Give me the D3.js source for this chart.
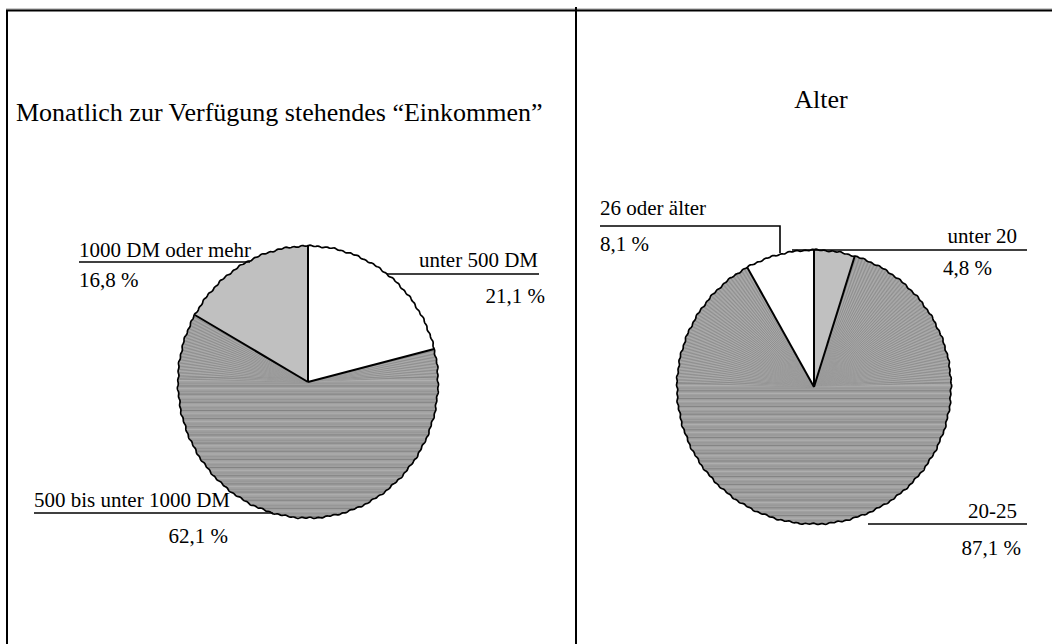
<!DOCTYPE html>
<html lang="de">
<head>
  <meta charset="utf-8">
  <title>Einkommen und Alter</title>
  <script src="https://cdn.jsdelivr.net/npm/d3@7"></script>
  <style>
    body {
      margin: 0;
      background: #fff;
    }

    svg text {
      font-family: "Liberation Serif", "Times New Roman", serif;
      fill: #000;
    }
  </style>
</head>

<body>
  <svg id="chart" width="1052" height="644"></svg>

  <script>
    //
    // Data
    //

    var incomeLabels = ['unter 500 DM', '500 bis unter 1000 DM', '1000 DM oder mehr']
    var incomeValues = [21.1, 62.1, 16.8]
    var incomeFills = ['white', 'hatch', '#c0c0c0']

    var ageLabels = ['unter 20', '20-25', '26 oder älter']
    var ageValues = [4.8, 87.1, 8.1]
    var ageFills = ['#c0c0c0', 'hatch', 'white']

    // where each label sits (name, percent, leader line points)
    var incomeLayout = [
      { name: [538, 267, 'end'], pct: [545, 303, 'end'], line: [[387, 274], [539, 274]] },
      { name: [34, 507, 'start'], pct: [228, 543, 'end'], line: [[34, 513], [273, 513]] },
      { name: [79, 257, 'start'], pct: [79, 287, 'start'], line: [[79, 262], [250, 262]] }
    ]
    var ageLayout = [
      { name: [1017, 243, 'end'], pct: [943, 275, 'start'], line: [[792, 250], [1027, 250]] },
      { name: [1017, 518, 'end'], pct: [1021, 555, 'end'], line: [[868, 524], [1027, 524]] },
      { name: [600, 215, 'start'], pct: [600, 251, 'start'], line: [[600, 226], [780, 226], [780, 253]] }
    ]

    var svg = d3.select('#chart')
    var fmt = d3.format('.1f')

    function pct(v) {
      return fmt(v).replace('.', ',') + ' %'
    }

    //
    // Frame
    //

    var frame = svg.append('g')
      .attr('fill', 'none')
      .attr('stroke', '#000')
      .attr('stroke-width', 2)
    frame.append('line').attr('x1', 6).attr('x2', 1052).attr('y1', 9).attr('y2', 9)
      .attr('stroke', '#999').attr('stroke-width', 1)
    frame.append('line').attr('x1', 6).attr('x2', 1052).attr('y1', 10.5).attr('y2', 10.5)
    frame.append('line').attr('x1', 7).attr('x2', 7).attr('y1', 10).attr('y2', 644)
    frame.append('line').attr('x1', 576).attr('x2', 576).attr('y1', 7).attr('y2', 644)

    //
    // Titles
    //

    svg.append('text')
      .attr('x', 16).attr('y', 121)
      .attr('font-size', 26)
      .text('Monatlich zur Verfügung stehendes \u201cEinkommen\u201d')

    svg.append('text')
      .attr('x', 821).attr('y', 108)
      .attr('font-size', 26)
      .attr('text-anchor', 'middle')
      .text('Alter')

    //
    // Pies
    //

    function drawPie(id, labels, values, fills, layout, cx, cy, r, ky) {
      var pie = d3.pie().sort(null).value(function(d) { return d })
      var arcs = pie(values)
      var arc = d3.arc().innerRadius(0).outerRadius(r)

      var g = svg.append('g')
        .attr('transform', 'translate(' + cx + ',' + cy + ') scale(1,' + ky + ')')

      arcs.forEach(function(a, i) {
        if (fills[i] !== 'hatch') {
          g.append('path').attr('d', arc(a)).attr('fill', fills[i])
          return
        }
        // grey slice with the scanned line texture
        var clipId = id + '-clip' + i
        g.append('clipPath').attr('id', clipId)
          .append('path').attr('d', arc(a))
        var tex = g.append('g').attr('clip-path', 'url(#' + clipId + ')')
        tex.append('path').attr('d', arc(a)).attr('fill', '#a0a0a0')

        var rows = d3.range(-4, r + 2, 2.6)
        tex.selectAll('line.h').data(rows).join('line')
          .attr('class', 'h')
          .attr('x1', -r).attr('x2', r)
          .attr('y1', function(d) { return d }).attr('y2', function(d) { return d })
          .attr('stroke', function(d, j) { return j % 3 === 0 ? '#828282' : (j % 3 === 1 ? '#b0b0b0' : '#959595') })
          .attr('stroke-width', 1)
          .attr('vector-effect', 'non-scaling-stroke')

        var rays = d3.range(a.startAngle, a.endAngle, 0.012).filter(function(t) {
          return Math.cos(t) > 0.02
        })
        tex.selectAll('line.r').data(rays).join('line')
          .attr('class', 'r')
          .attr('x1', 0).attr('y1', 0)
          .attr('x2', function(t) { return Math.sin(t) * r })
          .attr('y2', function(t) { return -Math.cos(t) * r })
          .attr('stroke', function(t, j) { return j % 2 ? '#888' : '#b0b0b0' })
          .attr('stroke-width', 0.7)
          .attr('vector-effect', 'non-scaling-stroke')
      })

      // radii between slices
      g.selectAll('line.spoke').data(arcs).join('line')
        .attr('class', 'spoke')
        .attr('x1', 0).attr('y1', 0)
        .attr('x2', function(a) { return Math.sin(a.startAngle) * r })
        .attr('y2', function(a) { return -Math.cos(a.startAngle) * r })
        .attr('stroke', '#000')
        .attr('stroke-width', 2)
        .attr('vector-effect', 'non-scaling-stroke')

      // slightly uneven rim, like the scanned original
      var steps = d3.range(0, 2 * Math.PI + 0.001, 1 / r)
      var rim = d3.lineRadial()
        .angle(function(t) { return t })
        .radius(function(t) {
          return r + 0.45 * Math.sin(t * r / 1.3) + 0.35 * Math.sin(t * r / 3.7 + 1)
        })
      g.append('path')
        .attr('d', rim(steps) + 'Z')
        .attr('fill', 'none')
        .attr('stroke', '#000')
        .attr('stroke-width', 1.7)
        .attr('vector-effect', 'non-scaling-stroke')

      // labels
      layout.forEach(function(p, i) {
        svg.append('path')
          .attr('d', d3.line()(p.line))
          .attr('fill', 'none')
          .attr('stroke', '#000')
          .attr('stroke-width', 1.6)

        svg.append('text')
          .attr('x', p.name[0]).attr('y', p.name[1])
          .attr('text-anchor', p.name[2])
          .attr('font-size', 21)
          .text(labels[i])

        svg.append('text')
          .attr('x', p.pct[0]).attr('y', p.pct[1])
          .attr('text-anchor', p.pct[2])
          .attr('font-size', 21)
          .text(pct(values[i]))
      })
    }

    drawPie('inc', incomeLabels, incomeValues, incomeFills, incomeLayout, 308, 382, 130, 136 / 130)
    drawPie('age', ageLabels, ageValues, ageFills, ageLayout, 814, 387, 137, 1)
  </script>
</body>
</html>
